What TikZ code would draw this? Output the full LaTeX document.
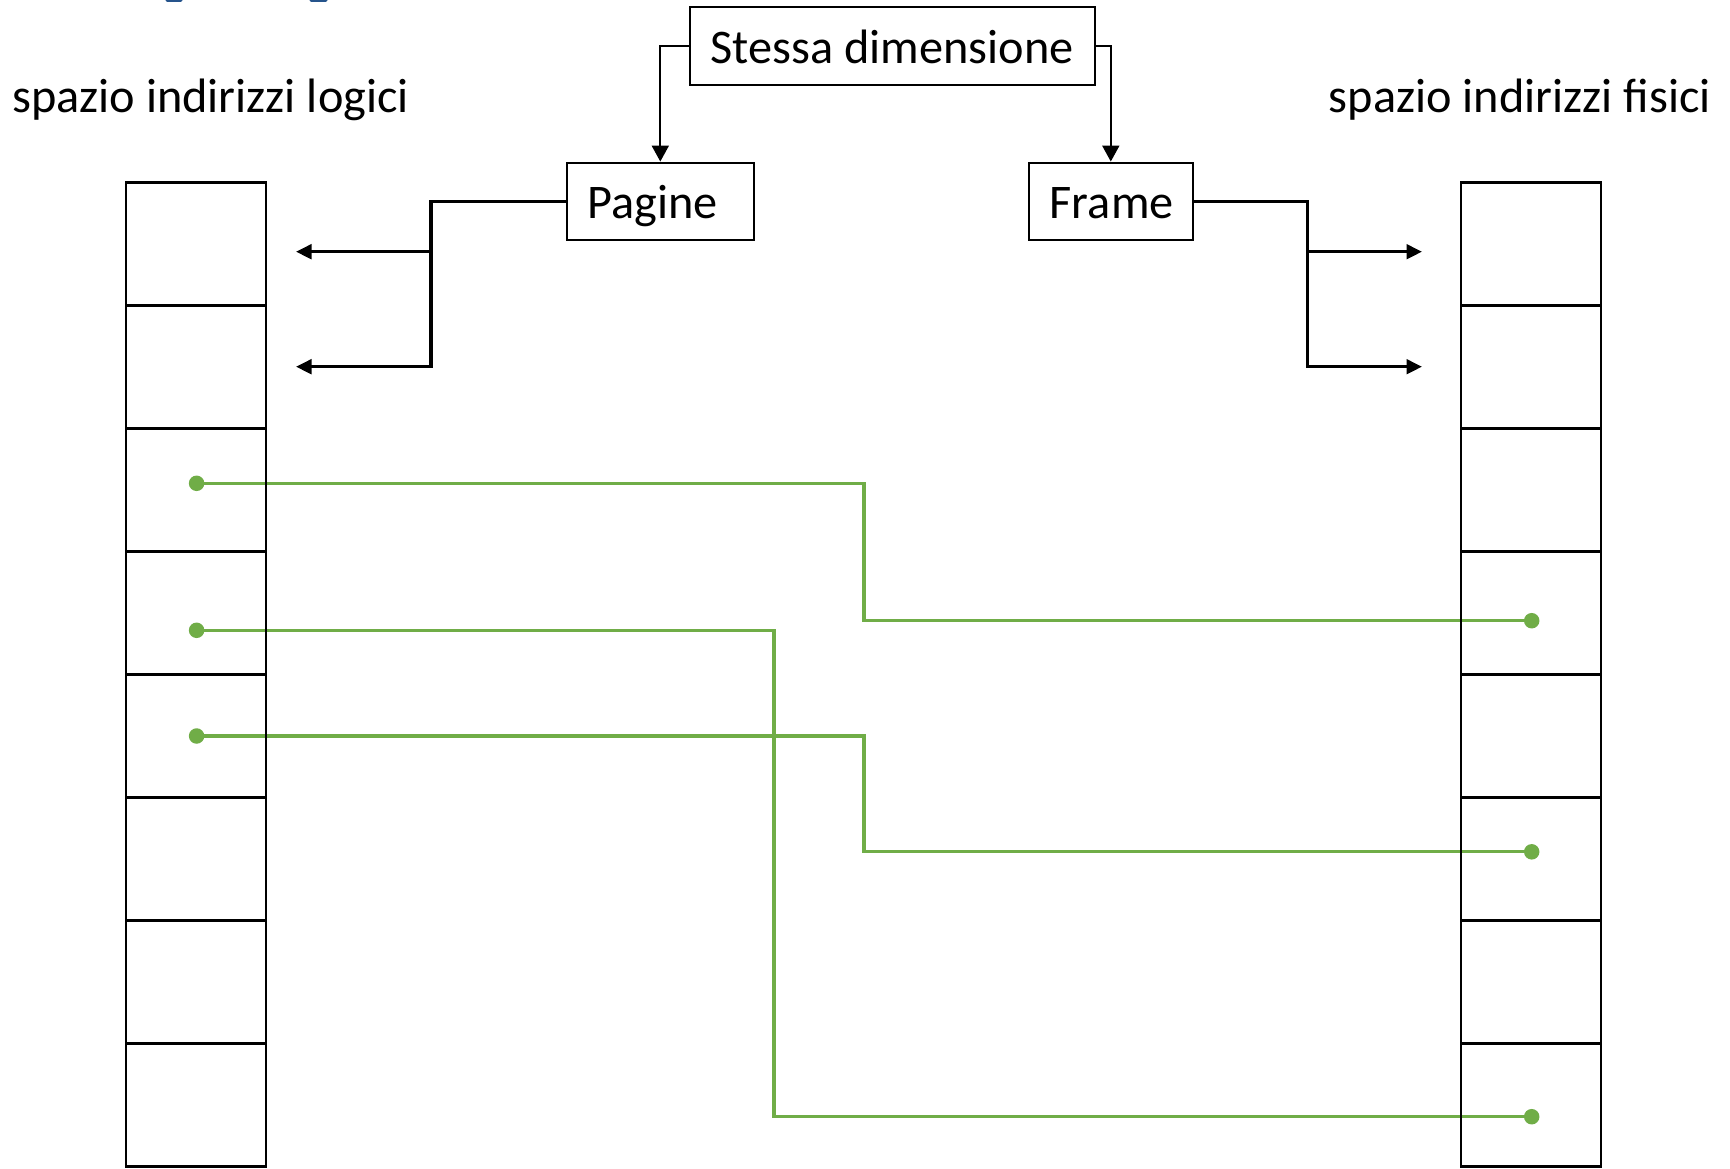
\documentclass[tikz,border=0pt]{standalone}
\usepackage{fontspec}
\setmainfont{Carlito}
\usetikzlibrary{arrows.meta,backgrounds}
\definecolor{linkgreen}{RGB}{112,173,71}
\definecolor{titleblue}{RGB}{38,84,140}
% box text set flush left in a field of fixed width
\newcommand{\boxtext}[2]{\makebox[#1][l]{#2}}

\begin{document}
\begin{tikzpicture}[x=1pt,y=-1pt,
  cell/.style={draw, line width=2.4pt, minimum width=140pt, minimum height=123pt, inner sep=0pt},
  labelbox/.style={draw, line width=2pt, inner ysep=0pt, inner xsep=21pt, minimum height=77.5pt,
    text height=34pt, text depth=0pt, font=\fontsize{48.3}{58}\selectfont},
  sidelabel/.style={inner sep=0pt, font=\fontsize{48.3}{58}\selectfont},
  thinarrow/.style={line width=2pt, -{Triangle[length=16pt,width=17pt]}},
  thickarrow/.style={line width=3.2pt, -{Triangle[length=15.5pt,width=14.5pt]}},
  link/.style={draw=linkgreen, line width=3.2pt},
  pin/.style={circle, fill=linkgreen, inner sep=0pt, minimum size=15.5pt}
]
\useasboundingbox (0,0) rectangle (1730,1168);

% lower edge of the heading, cut by the page border
\draw[titleblue, line width=3pt, line cap=round] (167,0.4) -- (181,0.4);
\draw[titleblue, line width=3pt, line cap=round] (311,0.4) -- (326,0.4);

% column captions
\node[sidelabel, anchor=base west] (logici) at (12,112) {spazio indirizzi logici};
\node[sidelabel, anchor=base east] (fisici) at (1711,112) {spazio indirizzi fisici};

% boxes
\node[labelbox] (stessa) at (892,46.2) {\boxtext{363pt}{Stessa dimensione}};
\node[labelbox] (pagine) at (660.3,201.3) {\boxtext{145.5pt}{Pagine}};
\node[labelbox] (frame) at (1110.8,201.3) {\boxtext{122pt}{Frame}};

\draw[thinarrow] (stessa.west) -| (pagine.north);
\draw[thinarrow] (stessa.east) -| (frame.north);

% fork towards the logical pages
\coordinate (pj) at (431,201.3);
\coordinate (pt1) at (296,251.7);
\coordinate (pt2) at (296,366.7);
\draw[thickarrow] (pagine.west) -| (pt2 -| pj) -- (pt2);
\draw[thickarrow] (pt1 -| pj) -- (pt1);

% fork towards the physical frames
\coordinate (fj) at (1307.3,201.3);
\coordinate (ft1) at (1422,251.7);
\coordinate (ft2) at (1422,366.7);
\draw[thickarrow] (frame.east) -| (ft2 -| fj) -- (ft2);
\draw[thickarrow] (ft1 -| fj) -- (ft1);

% page-to-frame mapping
\node[pin] (a1) at (196.6,483.3) {};
\node[pin] (a2) at (196.6,630.3) {};
\node[pin] (a3) at (196.6,736) {};
\node[pin] (b1) at (1531.7,620.7) {};
\node[pin] (b2) at (1531.7,851.8) {};
\node[pin] (b3) at (1531.7,1116.7) {};
\coordinate (m1) at (864,0);
\coordinate (m2) at (774,0);
\coordinate (m3) at (864,0);
\begin{scope}[on background layer]
\fill[white] (0,0) rectangle (1730,1168);
\draw[link] (a1.center) -| (m1 |- b1) -- (b1.center);
\draw[link] (a2.center) -| (m2 |- b3) -- (b3.center);
\draw[link] (a3.center) -| (m3 |- b2) -- (b2.center);
\end{scope}

% address spaces
\foreach \i in {1,...,8} {
  \node[cell] (L\i) at (195.9,{121+123*\i}) {};
  \node[cell] (R\i) at (1531,{121+123*\i}) {};
}
\end{tikzpicture}
\end{document}
